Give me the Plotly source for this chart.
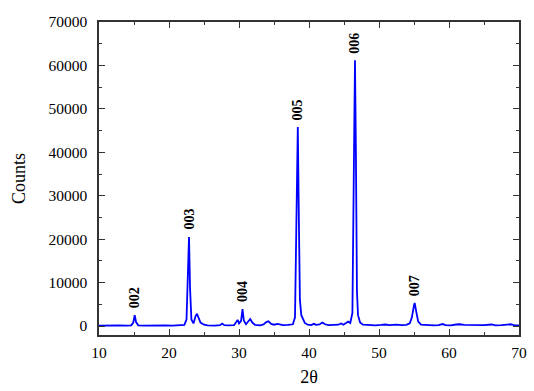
import plotly.graph_objects as go

two_theta = [10.0, 11.0, 12.0, 13.0, 14.0, 14.6, 14.9, 15.1, 15.3, 15.6, 16.5, 17.5, 18.5, 19.5, 20.5,
             21.5, 22.2, 22.5, 22.7, 22.86, 23.0, 23.2, 23.5, 23.8, 24.0, 24.2, 24.5, 25.0, 25.5, 26.5,
             27.3, 27.6, 27.9, 28.5, 29.3, 29.6, 29.8, 30.0, 30.3, 30.5, 30.7, 31.0, 31.4, 31.6, 31.9,
             32.3, 33.0, 33.5, 33.9, 34.2, 34.6, 35.0, 35.5, 35.8, 36.3, 37.0, 37.7, 38.0, 38.2, 38.4,
             38.55, 38.7, 38.9, 39.1, 39.4, 39.8, 40.3, 40.7, 41.0, 41.5, 41.9, 42.3, 42.8, 43.5, 44.2,
             44.6, 44.9, 45.4, 45.6, 45.9, 46.2, 46.4, 46.57, 46.7, 46.85, 47.0, 47.3, 47.7, 48.5, 49.5,
             50.3, 50.9, 51.5, 52.5, 53.3, 53.9, 54.4, 54.7, 55.0, 55.1, 55.3, 55.6, 56.0, 56.8, 57.8,
             58.5, 59.1, 59.5, 60.3, 61.0, 61.5, 62.2, 63.0, 64.0, 65.0, 66.1, 66.6, 67.5, 68.3, 68.8,
             69.3, 70.0]
counts = [100, 150, 80, 120, 100, 150, 800, 2500, 900, 150, 100, 150, 80, 120, 100,
          150, 250, 1500, 12000, 20500, 9000, 1500, 600, 2300, 2800, 2000, 800, 300, 150, 100,
          200, 550, 200, 150, 200, 900, 1400, 600, 1200, 3900, 1200, 400, 1300, 1600, 800,
          250, 150, 350, 900, 1100, 500, 300, 500, 400, 200, 250, 400, 2000, 20000, 45800,
          25000, 6000, 2500, 1800, 700, 300, 200, 500, 250, 350, 800, 400, 200, 250, 300,
          600, 300, 800, 1000, 700, 3000, 35000, 61200, 40000, 8000, 2500, 800, 300, 200, 150,
          250, 350, 200, 300, 200, 250, 600, 2000, 4800, 5300, 3500, 1000, 300, 200, 150,
          200, 450, 200, 150, 350, 400, 250, 200, 150, 200, 350, 150, 200, 300, 400,
          200, 150]

peak_labels = ["002", "003", "004", "005", "006", "007"]
peak_pos = [15.1, 22.86, 30.5, 38.4, 46.57, 55.1]
peak_height = [2500, 20500, 3900, 45800, 61200, 5300]

x_ticks = [10, 20, 30, 40, 50, 60, 70]
x_tick_text = ["10", "20", "30", "40", "50", "60", "70"]
y_ticks = [0, 10000, 20000, 30000, 40000, 50000, 60000, 70000]
y_tick_text = ["0", "10000", "20000", "30000", "40000", "50000", "60000", "70000"]

font_family = "Liberation Serif"

fig = go.Figure()
fig.add_trace(go.Scatter(x=two_theta, y=counts, mode="lines",
                         line=dict(color="#0000FF", width=1.8), showlegend=False))

for lab, px, py in zip(peak_labels, peak_pos, peak_height):
    fig.add_annotation(x=px, y=py, text="<b>%s</b>" % lab, textangle=-90,
                       showarrow=False, xanchor="center", yanchor="bottom", yshift=5,
                       font=dict(family=font_family, size=14, color="black"))

axis_common = dict(
    showgrid=False, zeroline=False, showline=True, linecolor="#333333", linewidth=1.5,
    mirror="ticks", ticks="inside", ticklen=6, tickwidth=1.2, tickcolor="#333333",
    tickfont=dict(family=font_family, size=15.5, color="black"), automargin=False,
)

fig.update_xaxes(range=[10, 70], tickvals=x_ticks, ticktext=x_tick_text, ticklabelstandoff=3,
                 minor=dict(ticks="inside", ticklen=3, dtick=5, tickcolor="#333333", tickwidth=1.2),
                 title=dict(text="2θ", font=dict(family=font_family, size=18, color="black"), standoff=10),
                 **axis_common)
fig.update_yaxes(range=[-2070, 70000], tickvals=y_ticks, ticktext=y_tick_text, ticklabelstandoff=7,
                 minor=dict(ticks="inside", ticklen=3, dtick=5000, tick0=0, tickcolor="#333333", tickwidth=1.2),
                 title=dict(text="Counts", font=dict(family=font_family, size=18, color="black"), standoff=18),
                 **axis_common)

fig.update_layout(width=534, height=391, margin=dict(l=99, r=15, t=22, b=56),
                  plot_bgcolor="white", paper_bgcolor="white")

fig.write_html("out.html", config={"displayModeBar": False},
               post_script="document.body.style.margin='0';document.body.style.overflow='hidden';")
